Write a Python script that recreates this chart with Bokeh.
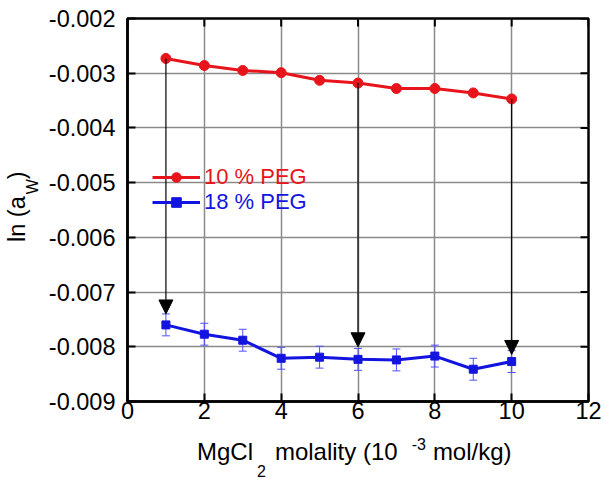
import math
from bokeh.plotting import figure
from bokeh.layouts import row, column
from bokeh.models import (ColumnDataSource, Whisker, Arrow, NormalHead, TeeHead, Div,
                          Legend, LegendItem, FixedTicker, PrintfTickFormatter, Range1d)
from bokeh.embed import file_html
from bokeh.resources import INLINE

# ---- data ----
molality = [1, 2, 3, 4, 5, 6, 7, 8, 9, 10]
ln_aw_10peg = [-0.00273, -0.00286, -0.00295, -0.00299, -0.00313, -0.00318, -0.00328, -0.00328, -0.00336, -0.00347]
ln_aw_18peg = [-0.00760, -0.00777, -0.00788, -0.00821, -0.00819, -0.00823, -0.00824, -0.00817, -0.00841, -0.00827]
err_18peg = [0.0002, 0.0002, 0.0002, 0.0002, 0.0002, 0.0002, 0.0002, 0.0002, 0.0002, 0.0002]
arrow_x = [1, 6, 10]
arrow_tip = [-0.0074, -0.0080, -0.00814]
x_ticks = [0, 2, 4, 6, 8, 10, 12]
y_ticks = [-0.009, -0.008, -0.007, -0.006, -0.005, -0.004, -0.003, -0.002]

RED = "#e8141c"
BLUE = "#1414e0"
FONT = "Liberation Sans"
FS = "23.5px"

X0, X1 = 0, 12
Y0, Y1 = -0.009, -0.002
YT_W = 44          # width of the y-title strip
PH = 432           # plot height (x-title strip below)
XT_H = 479 - PH

p = figure(width=604 - YT_W, height=PH, output_backend="svg", toolbar_location=None,
           x_range=Range1d(X0, X1), y_range=Range1d(Y0, Y1),
           min_border_left=127 - YT_W, min_border_right=16, min_border_top=18, min_border_bottom=PH - 401)
p.background_fill_color = "white"
p.border_fill_color = "white"
p.outline_line_color = "black"
p.outline_line_width = 2.5

for g in (p.xgrid[0], p.ygrid[0]):
    g.grid_line_color = "#8a8a8a"
    g.grid_line_width = 1.5
p.xgrid.ticker = FixedTicker(ticks=x_ticks)
p.ygrid.ticker = FixedTicker(ticks=y_ticks)

def style_axis(ax, ticks):
    ax.ticker = FixedTicker(ticks=ticks)
    ax.axis_line_color = "black"
    ax.axis_line_width = 2.5
    ax.major_tick_line_color = "black"
    ax.major_tick_line_width = 2
    ax.major_tick_in = 8
    ax.major_tick_out = 0
    ax.minor_tick_line_color = None
    ax.major_label_text_font = FONT
    ax.major_label_text_color = "black"
    ax.major_label_text_font_size = FS

xa = p.xaxis[0]
ya = p.yaxis[0]
style_axis(xa, x_ticks)
style_axis(ya, y_ticks)
xa.major_label_standoff = 0
ya.major_label_standoff = 12
ya.formatter = PrintfTickFormatter(format="%.3f")
xa.formatter = PrintfTickFormatter(format="%d")

# inward tick marks on the top and right edges
p.ray(x=x_ticks, y=[Y1] * len(x_ticks), length=8, length_units="screen",
      angle=-math.pi / 2, line_color="black", line_width=2)
p.ray(x=[X1] * len(y_ticks), y=y_ticks, length=8, length_units="screen",
      angle=math.pi, line_color="black", line_width=2)

# ---- series ----
src10 = ColumnDataSource(dict(x=molality, y=ln_aw_10peg))
lower18 = [v - e for v, e in zip(ln_aw_18peg, err_18peg)]
upper18 = [v + e for v, e in zip(ln_aw_18peg, err_18peg)]
src18 = ColumnDataSource(dict(x=molality, y=ln_aw_18peg, lower=lower18, upper=upper18))

start_y = [ln_aw_10peg[molality.index(a)] for a in arrow_x]
src_arr = ColumnDataSource(dict(x=arrow_x, y0=start_y, y1=arrow_tip))
p.add_layout(Arrow(end=NormalHead(size=14, fill_color="black", line_color="black", line_width=1),
                   x_start="x", y_start="y0", x_end="x", y_end="y1", source=src_arr,
                   line_color="black", line_width=1.2))

p.add_layout(Whisker(base="x", lower="lower", upper="upper", source=src18,
                     line_color="#5050ff", line_width=1,
                     upper_head=TeeHead(size=8, line_color="#5050ff", line_width=1),
                     lower_head=TeeHead(size=8, line_color="#5050ff", line_width=1)))

l10 = p.line("x", "y", source=src10, line_color=RED, line_width=3)
m10 = p.scatter("x", "y", source=src10, marker="circle", size=10, fill_color=RED, line_color=RED)
l18 = p.line("x", "y", source=src18, line_color=BLUE, line_width=3)
m18 = p.scatter("x", "y", source=src18, marker="square", size=8, fill_color=BLUE, line_color=BLUE)

def make_legend(label, rends, color, ypos, size):
    lg = Legend(items=[LegendItem(label=label, renderers=rends)],
                location=(25, ypos), orientation="vertical",
                border_line_color=None, background_fill_alpha=0,
                padding=0, margin=0, spacing=0, glyph_width=48, glyph_height=24,
                label_height=24, label_standoff=4,
                label_text_font=FONT, label_text_font_size=size,
                label_text_color=color)
    p.add_layout(lg, "center")

make_legend("10 % PEG", [l10, m10], RED, 211, "22px")
make_legend("18 % PEG", [l18, m18], BLUE, 186, "22px")

# ---- axis titles as HTML text (sub/superscripts) ----
y_title = Div(width=YT_W, height=PH, margin=0, text=(
    "<div style=\"position:absolute; left:3.7px; top:242px; transform-origin:0 0; "
    "transform:rotate(-90deg); white-space:nowrap; font-family:'Liberation Sans'; "
    "font-size:23.5px; line-height:26.25px; color:black;\">"
    "ln (a<span style=\"font-size:16px; position:relative; top:13px; margin-left:2px;\">W</span>)"
    "</div>"))

x_title = Div(width=604, height=XT_H, margin=0, text=(
    "<div style=\"padding-left:197px; padding-top:5.7px; white-space:nowrap; "
    "font-family:'Liberation Sans'; font-size:24px; line-height:28px; color:black;\">"
    "MgCl<span style=\"font-size:16px; position:relative; top:17px; margin-left:4px;\">2</span>"
    "<span style=\"margin-left:9px;\">molality (10</span>"
    "<span style=\"font-size:16px; position:relative; top:-10px; margin-left:14px;\">-3</span>"
    "<span style=\"margin-left:7px;\">mol/kg)</span>"
    "</div>"))

layout = column(row(y_title, p, spacing=0), x_title, spacing=0)

open("out.html", "w").write(file_html(layout, INLINE))
